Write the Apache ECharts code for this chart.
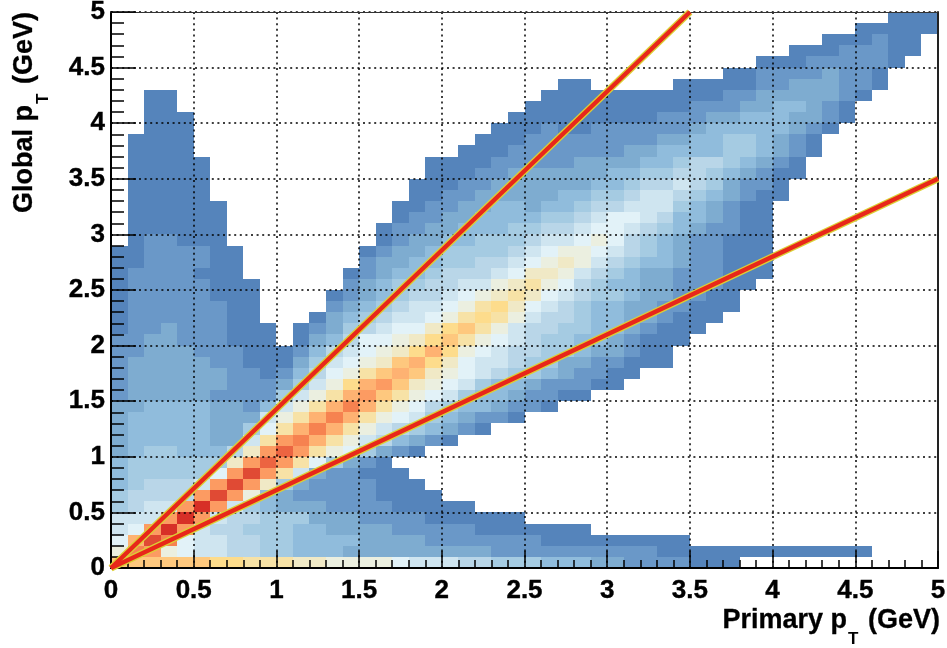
<!DOCTYPE html>
<html>
<head>
<meta charset="utf-8">
<style>html,body{margin:0;padding:0;background:#fff}#c{width:947px;height:648px}</style>
<script src="https://cdn.jsdelivr.net/npm/echarts@6/dist/echarts.min.js"></script>
</head>
<body>
<div id="c"></div>
<script>
// Colour level of each bin (level 0 = empty). Each row is one Global pT bin, from 0 upward.
// A token is <level><number of consecutive Primary pT bins>.
const binWidth = 0.1;
const levelColors = ['#ffffff','#5584bb','#6a98c8','#7eacd0','#90bcdc','#a5cbe2','#b9d6e8','#cfe5f0','#e2f2f8','#ebefe0',
  '#f0e9c6','#f7e2a6','#fddc8c','#fec87e','#feb272','#fc9b62','#f68250','#ec6441','#e04a34','#d73027'];
const rows = [
"d6 c2 b3 a2 94 81 73 62 53 43 32 24 13",
"91 g1 f1 91 81 72 62 52 43 39 210 113",
"81 e1 i1 g1 81 72 62 52 44 34 27 19",
"71 81 f1 j1 f1 71 62 53 42 34 25 17",
"73 f1 j1 f1 71 62 53 33 24 16",
"51 61 72 f1 j1 f1 71 51 41 33 24 15",
"51 64 f1 i1 f1 91 41 31 25 14",
"41 51 63 71 f1 i1 f1 a1 51 31 24 13",
"41 55 81 f1 i1 f1 b1 71 31 22 13",
"41 56 a1 f1 h1 f1 b1 81 51 31 21 11",
"31 41 52 43 61 a1 f1 h1 f1 b1 91 81 51 31 21 11",
"31 45 32 71 b1 f1 g1 e1 b1 91 71 61 41 31 21 11",
"31 45 32 51 81 b1 e1 g1 e1 b1 91 71 61 51 41 31 21 11",
"31 45 33 71 91 b1 e1 g1 e1 b1 91 81 71 51 41 31 22 11",
"32 44 32 21 41 71 91 b1 e1 g1 e1 b1 91 81 61 51 42 31 22 11",
"21 35 24 51 71 91 b1 e1 f1 d1 b1 91 81 71 51 42 31 22 12",
"21 36 23 31 51 71 91 c1 e1 f1 d1 a1 91 81 71 51 42 31 23 12",
"21 36 22 11 21 41 61 81 91 b1 d1 e1 d1 a1 91 81 71 61 52 41 31 22 12",
"21 35 22 13 31 51 71 81 91 a1 d1 e1 c1 a1 81 72 61 52 32 22 13",
"22 33 23 13 21 41 61 71 81 91 a1 c1 e1 c1 91 81 71 62 52 41 32 21 12",
"22 32 23 13 01 11 31 41 61 82 91 a1 c1 d1 b1 91 81 71 61 52 42 31 21 13",
"11 22 31 23 13 01 11 21 31 51 61 71 82 a1 c1 d1 b1 91 71 62 52 42 31 21 13",
"11 26 12 03 11 31 41 51 61 72 81 91 b1 c1 b1 91 71 62 51 42 32 21 13",
"11 26 12 04 21 31 41 51 61 72 81 91 b1 c1 a1 81 71 61 51 42 32 22 13",
"11 25 13 04 11 21 31 41 51 62 71 81 91 a1 b1 a1 81 71 61 52 41 32 22 12",
"11 25 13 05 21 31 41 52 62 72 91 a1 b1 91 81 61 51 42 32 23 12",
"11 24 13 06 11 21 31 42 51 63 71 81 a2 91 71 61 51 41 32 23 13",
"12 24 12 07 21 32 42 52 62 71 81 91 a1 91 71 61 51 42 31 22 13",
"12 24 12 07 11 21 32 41 54 61 71 81 92 81 71 61 51 41 31 22 13",
"01 11 22 13 09 11 21 32 42 53 61 72 81 91 81 61 51 41 31 22 13",
"01 16 09 11 22 32 43 52 62 71 82 71 61 51 41 31 22 12",
"01 16 010 11 22 32 44 52 61 71 82 71 61 42 31 21 12",
"01 16 010 12 22 32 42 31 42 51 62 73 51 41 31 21 12",
"01 15 012 12 22 35 42 52 61 72 61 51 41 31 21 12",
"01 15 012 13 22 36 42 51 62 71 61 51 31 22 11",
"01 15 013 13 22 36 42 52 62 51 41 31 21 12",
"01 15 013 14 25 34 42 51 62 51 41 31 21 11",
"01 14 016 13 27 32 44 52 41 31 21 11",
"01 14 017 13 28 32 42 52 41 31 21 11",
"02 13 018 13 21 12 26 31 45 31 21 11",
"02 13 019 19 23 32 43 32 21 11",
"02 12 021 110 23 32 42 31 21 11",
"02 12 022 111 22 35 21 11",
"027 12 05 15 22 33 22 11",
"037 12 24 31 22 11",
"039 13 25 11",
"041 13 23 12",
"043 13 21 12",
"045 15",
"047 13"
];
const upperLine = [[0,0],[3.5,5]];
const lowerLine = [[0,0],[5,3.5]];

const cells = [];
rows.forEach((row, j) => {
  let i = 0;
  row.split(' ').forEach(tok => {
    const level = parseInt(tok[0], 36), n = parseInt(tok.slice(1), 10);
    for (let k = 0; k < n; k++, i++) {
      if (level > 0) cells.push([i * binWidth, j * binWidth, level]);
    }
  });
});

const font = '"Liberation Sans", Arial, sans-serif';
const labelStyle = {color:'#000', fontFamily:font, fontWeight:'bold', fontSize:26, textBorderColor:'#000', textBorderWidth:0.4};
const nameRich = {
  a:{color:'#000', fontFamily:font, fontWeight:'bold', fontSize:27, lineHeight:30, padding:[0,0,19,0], textBorderColor:'#000', textBorderWidth:0.3},
  s:{color:'#000', fontFamily:font, fontWeight:'bold', fontSize:17, lineHeight:17, padding:[19,2,0,1]}
};
const dotted = {show:true, lineStyle:{color:'#000', width:1.5, type:[2,3.6]}};
const edgeAxis = (pos, w, col) => ({type:'value', position:pos, min:0, max:5, silent:true,
  axisLine:{show:true, onZero:false, lineStyle:{color:col, width:w}}, axisTick:{show:false}, axisLabel:{show:false}, splitLine:{show:false}, z:5});

const chart = echarts.init(document.getElementById('c'), null, {renderer:'canvas'});
chart.setOption({
  animation:false,
  backgroundColor:'#fff',
  grid:{left:111, top:12, width:827, height:556, containLabel:false, outerBoundsMode:'none'},
  xAxis:[{
    type:'value', min:0, max:5, interval:0.5, position:'bottom', z:5,
    axisLine:{show:true, onZero:false, lineStyle:{color:'#000', width:2}},
    axisTick:{show:true, inside:true, length:17, lineStyle:{color:'#000', width:1.5}},
    minorTick:{show:true, splitNumber:5, length:8, lineStyle:{color:'#000', width:1.5}},
    axisLabel:Object.assign({margin:10}, labelStyle),
    splitLine:dotted,
    name:'{a|Primary p}{s|T}{a| (GeV)}', nameLocation:'end', nameGap:2, nameMoveOverlap:false,
    nameTextStyle:{align:'right', verticalAlign:'top', padding:[47,0,0,0], rich:nameRich}
  }, edgeAxis('top', 1, '#333')],
  yAxis:[{
    type:'value', min:0, max:5, interval:0.5, position:'left', z:5,
    axisLine:{show:true, onZero:false, lineStyle:{color:'#000', width:2}},
    axisTick:{show:true, inside:true, length:25, lineStyle:{color:'#000', width:1.5}},
    minorTick:{show:true, splitNumber:5, length:13, lineStyle:{color:'#000', width:1.5}},
    axisLabel:Object.assign({margin:6}, labelStyle),
    splitLine:dotted,
    name:'{a|Global p}{s|T}{a| (GeV)}', nameLocation:'end', nameRotate:90, nameGap:0, nameMoveOverlap:false,
    nameTextStyle:{align:'right', verticalAlign:'bottom', padding:[0,0,62,0], rich:nameRich}
  }, edgeAxis('right', 2, '#222')],
  series:[
    {type:'custom', xAxisIndex:0, yAxisIndex:0, z:2, progressive:0, silent:true, clip:false,
     encode:{x:0,y:1}, data:cells,
     renderItem:(params, api) => {
       const a = api.coord([api.value(0), api.value(1)]);
       const b = api.coord([api.value(0)+binWidth, api.value(1)+binWidth]);
       const x0=Math.round(a[0]), x1=Math.round(b[0]), y0=Math.round(b[1]), y1=Math.round(a[1]);
       return {type:'rect', shape:{x:x0,y:y0,width:x1-x0,height:y1-y0}, style:{fill:levelColors[api.value(2)]}};
     }},
    {type:'line', data:upperLine, symbol:'none', clip:false, z:8, lineStyle:{color:'#dccf35', width:7}},
    {type:'line', data:upperLine, symbol:'none', clip:false, z:9, lineStyle:{color:'#e8271a', width:4.4}},
    {type:'line', data:lowerLine, symbol:'none', clip:false, z:8, lineStyle:{color:'#dccf35', width:7}},
    {type:'line', data:lowerLine, symbol:'none', clip:false, z:9, lineStyle:{color:'#e8271a', width:4.4}}
  ]
});
</script>
</body>
</html>
